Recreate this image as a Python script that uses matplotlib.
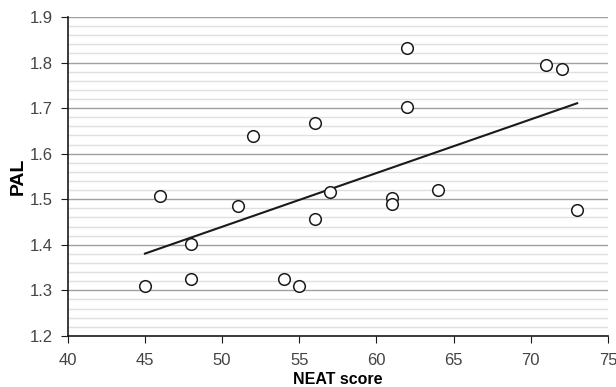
import numpy as np
import matplotlib
matplotlib.use("Agg")
import matplotlib.pyplot as plt
from matplotlib.ticker import MultipleLocator, FormatStrFormatter

# Values.
neat_score = [45, 46, 48, 48, 51, 52, 54, 55, 56, 56, 57, 61, 61, 62, 62, 64, 71, 72, 73]
pal = [1.310, 1.507, 1.402, 1.325, 1.486, 1.638, 1.325, 1.309, 1.667, 1.456,
       1.517, 1.503, 1.490, 1.833, 1.702, 1.521, 1.795, 1.787, 1.477]

plt.rcParams["font.family"] = ["Liberation Sans", "DejaVu Sans"]

fig = plt.figure(figsize=(6.16, 3.87), dpi=100)
ax = fig.add_axes([0.110, 0.132, 0.877, 0.824])

ax.set_xlim(40, 75)
ax.set_ylim(1.2, 1.9)
ax.yaxis.set_major_locator(MultipleLocator(0.1))
ax.yaxis.set_minor_locator(MultipleLocator(0.02))
ax.yaxis.set_major_formatter(FormatStrFormatter("%.1f"))
ax.xaxis.set_major_locator(MultipleLocator(5))

ax.grid(which="minor", axis="y", color="#e0e0e0", linewidth=1.0)
ax.grid(which="major", axis="y", color="#a0a0a0", linewidth=1.0)
ax.set_axisbelow(True)

# linear trend line over the data range
x = np.array(neat_score, dtype=float)
slope, intercept = np.polyfit(x, np.array(pal), 1)
xs = np.array([x.min(), x.max()])
ax.plot(xs, slope * xs + intercept, color="#1a1a1a", linewidth=1.5, zorder=2)

ax.scatter(neat_score, pal, s=70, facecolors="white", edgecolors="#1a1a1a",
           linewidths=1.1, zorder=3)

for side in ("top", "right"):
    ax.spines[side].set_visible(False)
for side in ("left", "bottom"):
    ax.spines[side].set_color("#1a1a1a")
    ax.spines[side].set_linewidth(1.2)

ax.tick_params(axis="both", which="major", direction="out", length=5,
               color="#1a1a1a", labelcolor="#444444", labelsize=12)
ax.tick_params(axis="y", which="major", pad=6)
ax.tick_params(axis="x", which="major", pad=7)
ax.tick_params(axis="y", which="minor", length=0)

ax.set_xlabel("NEAT score", fontsize=11.5, fontweight="bold", labelpad=3)
ax.set_ylabel("PAL", fontsize=14, fontweight="bold", labelpad=2)

fig.savefig("out.png", dpi=100)
